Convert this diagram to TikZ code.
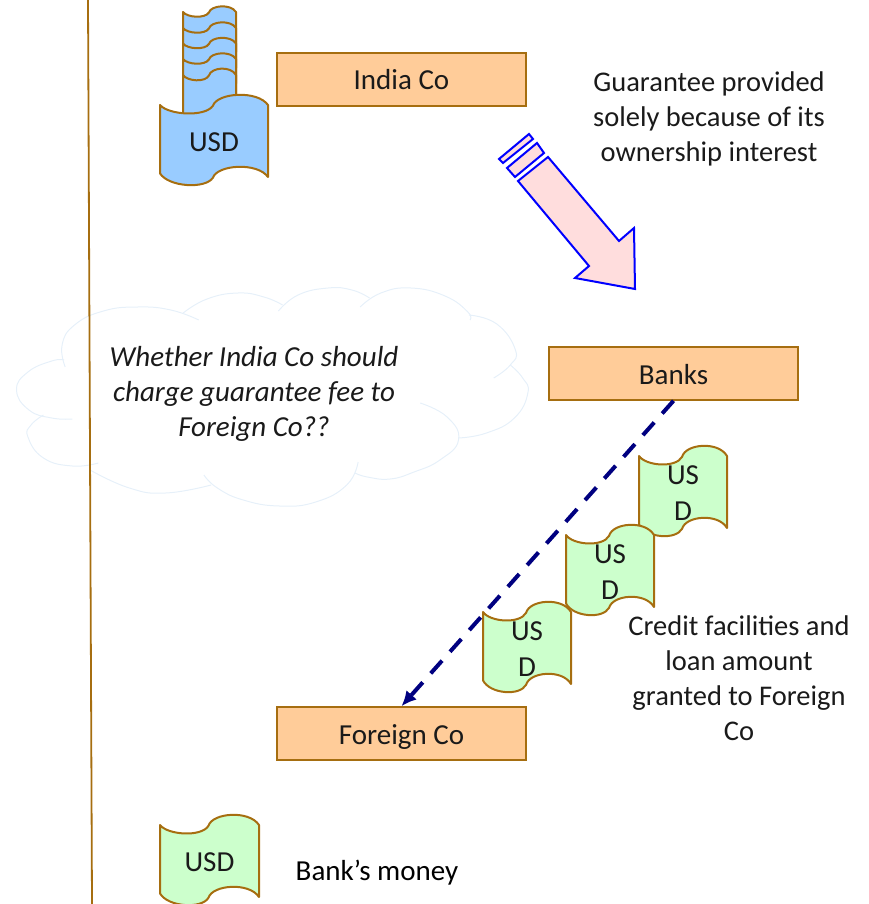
\documentclass[tikz,border=0pt]{standalone}
\usepackage{fontspec}
\usetikzlibrary{arrows.meta}
\setmainfont{Carlito}
\definecolor{brownline}{HTML}{A66E10}
\definecolor{boxfill}{HTML}{FFCC99}
\definecolor{bluefill}{HTML}{99CCFF}
\definecolor{greenfill}{HTML}{CCFFCC}
\definecolor{cloudline}{HTML}{E6F0F9}
\definecolor{arrowfill}{HTML}{FFDDDD}
\definecolor{txt}{HTML}{1A1A1A}
\definecolor{navyline}{HTML}{000080}
\newcommand{\moneynote}[7]{%
 \begin{scope}[shift={(#2,#3)},x=#4pt,y=-#5pt]
 \draw[brownline,line width=2pt,fill=#6,line join=round]
  (0,0) .. controls (.08,.14) and (.42,.17) .. (.49,.01)
  .. controls (.53,-.17) and (.9,-.21) .. (1,0)
  -- (1,1) .. controls (.9,.79) and (.53,.83) .. (.49,1.01)
  .. controls (.42,1.17) and (.08,1.14) .. (0,.95) -- cycle;
 \node[notetext] (#1) at (.5,.51) {#7};
 \end{scope}}
\tikzset{
 firm/.style={draw=brownline,fill=boxfill,line width=1.6pt,minimum width=249pt,minimum height=53pt,inner sep=0pt,text=txt,text height=21pt,text depth=0pt,font=\fontsize{29}{34}\selectfont},
 notetext/.style={text=txt,align=center,inner sep=0pt,font=\fontsize{29}{36}\selectfont},
 label/.style={text=txt,align=center,inner sep=0pt,font=\fontsize{28.5}{35}\selectfont},
 cloudstroke/.style={cloudline,line width=1pt,smooth,tension=.8},
 blockarrow/.style={draw=blue,fill=arrowfill,line width=2pt,line join=miter}
}
\begin{document}
\begin{tikzpicture}[x=1pt,y=-1pt]
\useasboundingbox (0,0) rectangle (868,904);
% cloud
\begin{scope}[xscale=1.035]
\draw[cloudstroke] plot coordinates {(63,367)(60,345)(72,325)(100,311)(133,307)(165,310)(192,320)};
\draw[cloudstroke] plot coordinates {(177,313)(200,299)(230,293)(255,297)(273,305)};
\draw[cloudstroke] plot coordinates {(269,311)(288,295)(317,288)(340,290)(357,298)};
\draw[cloudstroke] plot coordinates {(348,307)(368,293)(397,288)(430,296)(452,312)(454,320)};
\draw[cloudstroke] plot coordinates {(453,315)(480,324)(498,350)(493,365)(477,378)};
\draw[cloudstroke] plot coordinates {(493,365)(505,378)(510,393)(497,418)(470,433)(443,438)};
\draw[cloudstroke] plot coordinates {(406,403)(432,417)(443,440)(425,460)(400,472)(377,479)(355,477)(343,473)};
\draw[cloudstroke] plot coordinates {(346,462)(335,485)(305,502)(270,506)(235,500)(210,488)(197,475)};
\draw[cloudstroke] plot coordinates {(204,485)(160,493)(125,488)(87,470)};
\draw[cloudstroke] plot coordinates {(95,463)(70,466)(42,458)(27,437)(30,425)(42,415)};
\draw[cloudstroke] plot coordinates {(70,419)(50,418)(28,410)(16,390)(27,372)(50,361)(62,360)};
\end{scope}
% vertical rule
\coordinate (ruletop) at (88,0);
\coordinate (rulebottom) at (92,904);
\draw[brownline,line width=1.8pt] (ruletop) -- (rulebottom);
% stacked notes
\moneynote{s1}{183}{12}{53}{40}{bluefill}{}
\moneynote{s2}{183}{28}{53}{40}{bluefill}{}
\moneynote{s3}{183}{43.5}{53}{40}{bluefill}{}
\moneynote{s4}{183}{59}{53}{40}{bluefill}{}
\moneynote{s5}{183}{75}{53}{45}{bluefill}{}
\moneynote{usd}{160}{105}{108}{72}{bluefill}{USD}
% firms
\node[firm] (india) at (401.5,79.5) {India Co};
\node[firm] (banks) at (673.5,373.5) {Banks};
\node[firm] (foreign) at (401.5,733.5) {Foreign Co};
% block arrow
\draw[blockarrow] (499,159) -- (529,134) -- (533,139) -- (503,163) -- cycle;
\draw[blockarrow] (507,168) -- (537,143) -- (544,153) -- (515,177) -- cycle;
\draw[blockarrow] (518,181) -- (548,157) -- (619,241) -- (634,228) -- (635,289) -- (575,278) -- (589,266) -- cycle;
% green notes
\moneynote{g3}{639}{456}{88}{72}{greenfill}{US\\D}
\moneynote{g2}{566}{535}{88}{72}{greenfill}{US\\D}
\moneynote{g1}{483}{612}{88}{72}{greenfill}{US\\D}
\moneynote{g4}{160}{825}{99}{72}{greenfill}{USD}
% dashed connector
\draw[navyline,line width=4pt,dash pattern=on 17pt off 12pt,-{Latex[length=15pt,width=14pt]}] (banks.south) -- (foreign.north);
% labels
\node[label] (guar) at (709,119) {Guarantee provided\\solely because of its\\ownership interest};
\node[label,font=\fontsize{29}{35}\selectfont\itshape] (whether) at (254,394) {Whether India Co should\\charge guarantee fee to\\Foreign Co??};
\node[label] (credit) at (739,678.5) {Credit facilities and\\loan amount\\granted to Foreign\\Co};
\node[inner sep=0pt,text=black,font=\fontsize{29}{34}\selectfont] (bank) at (377,873) {Bank’s money};
\end{tikzpicture}
\end{document}
